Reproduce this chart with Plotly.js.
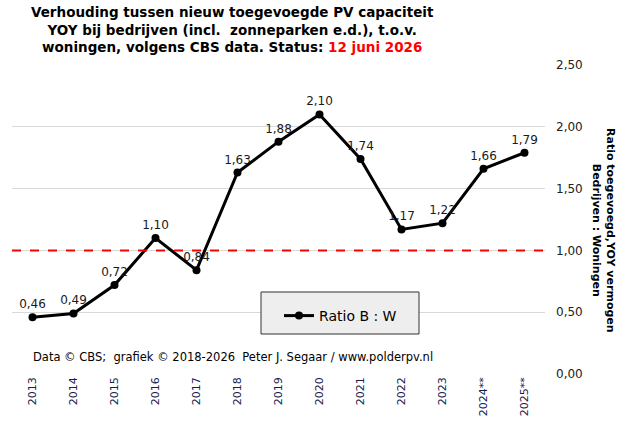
<!DOCTYPE html>
<html>
<head>
<meta charset="utf-8">
<script src="https://cdn.plot.ly/plotly-3.0.1.min.js"></script>
<style>
  html, body { margin: 0; padding: 0; background: #fff; }
  #chart { width: 625px; height: 426px; }
</style>
</head>
<body>
<div id="chart"></div>
<script>
// jaren (** = voorlopig)
var years = ['2013', '2014', '2015', '2016', '2017', '2018', '2019', '2020', '2021', '2022', '2023', '2024**', '2025**'];
// ratio bedrijven : woningen
var ratio = [0.46, 0.49, 0.72, 1.10, 0.84, 1.63, 1.88, 2.10, 1.74, 1.17, 1.22, 1.66, 1.79];
var yTicks = [0, 0.5, 1, 1.5, 2, 2.5];
var refLevel = 1.0;

var font = 'Verdana, "DejaVu Sans", sans-serif';

// plot area in pixels (used only to place paper-relative items)
var L = 12, R = 80, T = 65, B = 52;
var W = 625 - L - R, H = 426 - T - B;
function px(x) { return (x - L) / W; }
function py(y) { return (426 - B - y) / H; }

// rode stippellijn op ratio 1 over de hele breedte (eigen x-as 0..1)
var refTrace = {
    x: [0, 1],
    y: [refLevel, refLevel],
    xaxis: 'x2',
    type: 'scatter',
    mode: 'lines',
    line: { color: '#ff0000', width: 2, dash: 'dash' },
    showlegend: false,
    hoverinfo: 'skip'
};

var trace = {
    x: years,
    y: ratio,
    type: 'scatter',
    mode: 'lines+markers+text',
    name: 'Ratio B : W',
    line: { color: '#000000', width: 3 },
    marker: { color: '#000000', size: 8 },
    texttemplate: '%{y:.2f}',
    textposition: 'top center',
    textfont: { family: font, size: 12, color: '#1a1a1a' },
    cliponaxis: false
};

var layout = {
    width: 625,
    height: 426,
    margin: { l: L, r: R, t: T, b: B },
    paper_bgcolor: '#ffffff',
    plot_bgcolor: '#ffffff',
    separators: ',.',
    font: { family: font, size: 12, color: '#000' },
    xaxis: {
        type: 'category',
        range: [-0.5, years.length - 0.5],
        tickangle: -90,
        tickfont: { family: font, size: 11, color: '#1a1a4e' },
        showgrid: false,
        showline: false,
        zeroline: false,
        ticks: '',
        automargin: false
    },
    xaxis2: {
        overlaying: 'x',
        range: [0, 1],
        visible: false,
        fixedrange: true
    },
    yaxis: {
        side: 'right',
        range: [0, 2.5],
        tickvals: yTicks,
        tickformat: '.2f',
        tickfont: { family: font, size: 12, color: '#222' },
        showgrid: true,
        gridcolor: '#d9d9d9',
        gridwidth: 1,
        zeroline: false,
        showline: false,
        ticks: '',
        ticklabelstandoff: 10,
        automargin: false
    },
    shapes: [
        {
            type: 'rect', xref: 'paper', yref: 'paper',
            x0: px(261), x1: px(419), y0: py(334), y1: py(292),
            fillcolor: '#eeeeee',
            line: { color: '#333333', width: 1 },
            layer: 'above'
        }
    ],
    showlegend: true,
    legend: {
        x: px(279), y: py(300),
        xanchor: 'left', yanchor: 'top',
        bgcolor: 'rgba(0,0,0,0)',
        borderwidth: 0,
        font: { family: font, size: 14, color: '#000' },
        itemwidth: 30
    },
    annotations: [
        {
            text: '<b>Verhouding tussen nieuw toegevoegde PV capaciteit<br>YOY bij bedrijven (incl.  zonneparken e.d.), t.o.v.<br>woningen, volgens CBS data. Status: <span style="color:#ff0000">12 juni 2026</span></b>',
            xref: 'paper', yref: 'paper',
            x: px(232), y: py(2),
            xanchor: 'center', yanchor: 'top',
            showarrow: false,
            font: { family: font, size: 13.5, color: '#000' }
        },
        {
            text: 'Data © CBS;  grafiek © 2018-2026  Peter J. Segaar / www.polderpv.nl',
            xref: 'paper', yref: 'paper',
            x: px(233), y: py(357),
            xanchor: 'center', yanchor: 'middle',
            showarrow: false,
            font: { family: font, size: 11.5, color: '#000' }
        },
        {
            text: '<b>Ratio toegevoegd,YOY vermogen<br>Bedrijven : Woningen</b>',
            xref: 'paper', yref: 'paper',
            x: px(604), y: py(230),
            xanchor: 'center', yanchor: 'middle',
            textangle: 90,
            showarrow: false,
            font: { family: font, size: 11, color: '#000' }
        }
    ]
};

Plotly.newPlot('chart', [refTrace, trace], layout, { displayModeBar: false, staticPlot: true });
</script>
</body>
</html>
